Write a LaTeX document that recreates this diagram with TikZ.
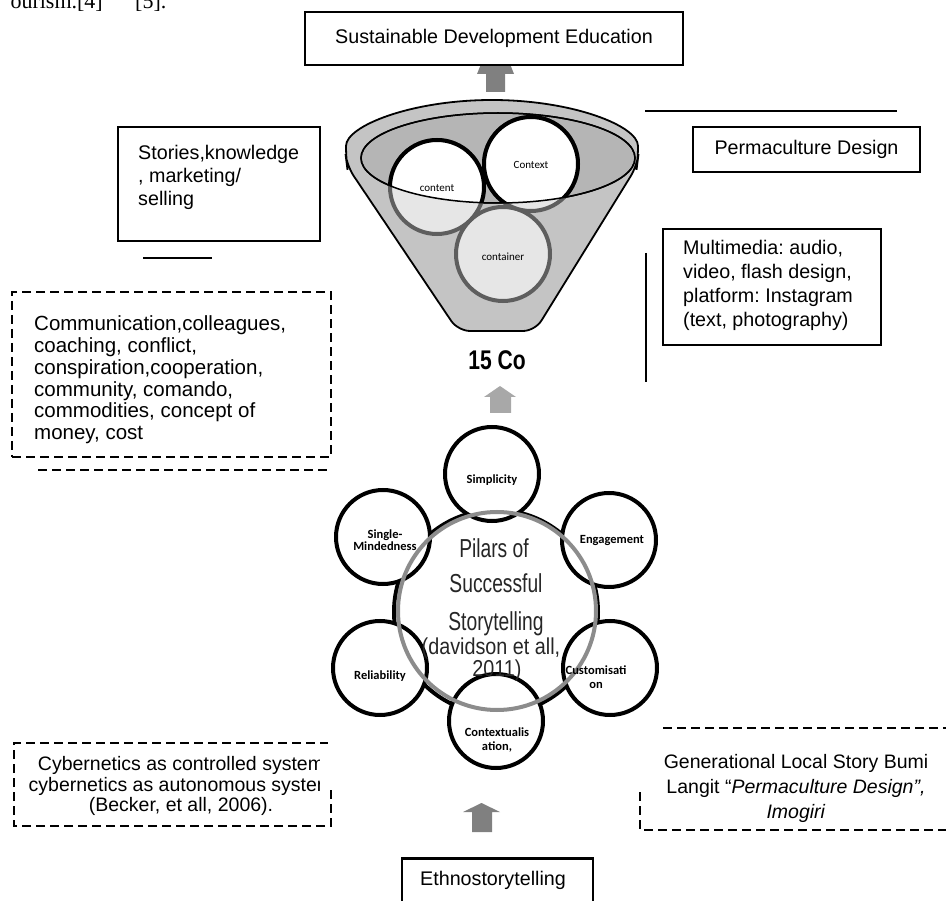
\documentclass[tikz,border=0pt]{standalone}
\usepackage{fontspec}
\setmainfont{Liberation Sans}
\newfontfamily\calibfont{Carlito}
\newfontfamily\serifont{Liberation Serif}
\definecolor{arrowdark}{HTML}{808080}
\definecolor{arrowlight}{HTML}{A8A8A8}
\definecolor{ringgray}{HTML}{8C8C8C}
\definecolor{circgray}{HTML}{5E5E5E}
\definecolor{circfill}{HTML}{E6E6E6}
\definecolor{conefill}{HTML}{C4C4C4}
\definecolor{innerfill}{HTML}{B5B5B5}
\frenchspacing
\begin{document}
\frenchspacing
\begin{tikzpicture}[x=1pt,y=-1pt,
  box/.style={draw, line width=1.8pt, fill=white, inner sep=0pt},
  dashbox/.style={draw, line width=1.4pt, dash pattern=on 9pt off 5pt, inner sep=0pt},
  dashline/.style={line width=1.4pt, dash pattern=on 9pt off 5pt},
  plainline/.style={line width=1.8pt},
  body/.style={font=\fontsize{19.7}{22}\selectfont, inner sep=0pt},
  sat/.style={circle, draw, line width=4pt, fill=white, minimum size=94pt, inner sep=0pt},
  satlabel/.style={font=\calibfont\bfseries\fontsize{12.5}{12.5}\selectfont, inner sep=0pt, align=center},
  funlabel/.style={font=\calibfont\fontsize{11}{11}\selectfont, inner sep=0pt},
  pillar/.style={inner sep=0pt, font=\fontsize{26}{26}\selectfont, text=black!85},
  pillarsmall/.style={inner sep=0pt, font=\fontsize{23}{23}\selectfont, text=black!85},
  graycirc/.style={circle, draw=circgray, fill=circfill, line width=4pt, minimum size=94pt, inner sep=0pt},
]
\useasboundingbox (0,0) rectangle (946,901);

% remnant text of the page above
\node[font=\serifont\fontsize{22}{22}\selectfont, anchor=base east, inner sep=0pt] (remA) at (103,9) {ourism.[4]};
\node[font=\serifont\fontsize{22}{22}\selectfont, anchor=base west, inner sep=0pt] (remB) at (135,9) {[5].};

% arrow below top box
\fill[arrowdark] (486,92) -- (486,74) -- (477,74) -- (481,64) -- (510,64) -- (514,74) -- (505,74) -- (505,92) -- cycle;

% top box
\node[box, minimum width=378pt, minimum height=53pt, font=\fontsize{19.7}{22}\selectfont] (sde) at (494,38.5) {Sustainable Development Education};

% funnel
\filldraw[fill=conefill, line width=1.8pt, rounded corners=12pt]
  (346,158) arc[start angle=180, end angle=0, x radius=146pt, y radius=58pt]
  -- (637,166) -- (535,331) -- (458,331) -- (347,166) -- cycle;
\filldraw[fill=innerfill, line width=1.5pt] (498,158) ellipse[x radius=137pt, y radius=45pt];
\node[graycirc] (containerc) at (503,254) {};
\node[graycirc] (contentg) at (437,187) {};
\node[graycirc] (contextg) at (531,164) {};
\begin{scope}
  \clip (498,158) ellipse[x radius=137pt, y radius=45pt];
  \filldraw[fill=white, line width=4pt] (437,187) circle[radius=47pt];
  \filldraw[fill=white, line width=4pt] (531,164) circle[radius=47pt];
\end{scope}
\draw[line width=1.5pt] (498,158) ellipse[x radius=137pt, y radius=45pt];
\node[funlabel] (contentl) at (437,188) {content};
\node[funlabel] (contextl) at (531,165) {Context};
\node[funlabel] (containerl) at (503,257) {container};

% 15 Co
\node[inner sep=0pt, font=\bfseries\fontsize{27}{27}\selectfont] (fifteen) at (497,360) {\scalebox{0.78}[1]{15 Co}};

% arrow below 15 Co
\fill[arrowlight] (490,413) -- (490,397) -- (484,397) -- (500,386) -- (516,397) -- (511,397) -- (511,413) -- cycle;

% pillars
\node[circle, draw, line width=4pt, minimum size=204pt, inner sep=0pt] (core) at (496,612) {};
\node[sat] (simp) at (492,474) {};
\node[sat] (single) at (383,537) {};
\node[sat] (engage) at (609,540) {};
\node[sat] (reli) at (380,668) {};
\node[sat] (custom) at (610,668) {};
\node[sat] (contexz) at (496,721) {};
\node[circle, draw=ringgray, line width=4pt, minimum size=198pt, inner sep=0pt] (ring) at (497,611) {};

\node[satlabel] (simpl) at (492,480) {Simplicity};
\node[satlabel, font=\calibfont\bfseries\fontsize{12.5}{12}\selectfont] (singlel) at (385,540) {Single-\\Mindedness};
\node[satlabel] (engagel) at (612,541) {Engagement};
\node[satlabel] (relil) at (380,676) {Reliability};
\node[satlabel, font=\calibfont\bfseries\fontsize{12.5}{13.5}\selectfont] (customl) at (596,677) {Customisati\\on};
\node[satlabel, font=\calibfont\bfseries\fontsize{12.5}{14.5}\selectfont] (contexzl) at (497,740) {Contextualis\\ation,};

\node[pillar] (p1) at (494,548) {\scalebox{0.74}[1]{Pilars of}};
\node[pillar] (p2) at (496,583) {\scalebox{0.74}[1]{Successful}};
\node[pillar] (p3) at (496,624) {\scalebox{0.74}[1]{Storytelling}};
\node[pillarsmall] (p4) at (491,649) {\scalebox{0.86}[1]{(davidson et all,}};
\node[pillarsmall] (p5) at (497,671) {\scalebox{0.86}[1]{2011)}};

% arrow below pillars
\fill[arrowdark] (472,832) -- (472,812) -- (463,812) -- (481.5,803) -- (500,812) -- (492,812) -- (492,832) -- cycle;

% Ethnostorytelling
\node[box, line width=2.5pt, minimum width=191pt, minimum height=56pt, anchor=north] (ethno) at (497.5,857) {};
\node[body] (ethnol) at (493,880) {Ethnostorytelling};

% Stories box
\node[box, minimum width=202pt, minimum height=114pt] (stories) at (219,184) {};
\node[body, font=\fontsize{19.7}{23}\selectfont, align=left, anchor=west] (storiesl) at (138,177) {Stories,knowledge\\, marketing/\\selling};
\coordinate (sl1) at (143,258);
\coordinate (sl2) at (212,258);
\draw[plainline] (sl1) -- (sl2);

% right top line and Permaculture box
\coordinate (tl1) at (645,111);
\coordinate (tl2) at (897,111);
\draw[plainline] (tl1) -- (tl2);
\node[box, minimum width=227pt, minimum height=45pt, font=\fontsize{19.7}{22}\selectfont] (perma) at (806.5,149.5) {Permaculture Design};

% Multimedia box
\node[box, minimum width=218pt, minimum height=116pt] (multi) at (772,287) {};
\node[body, font=\fontsize{19.7}{24}\selectfont, align=left, anchor=west] (multil) at (683,285) {Multimedia: audio,\\video, flash design,\\platform: Instagram\\(text, photography)};
\coordinate (vl1) at (646,253);
\coordinate (vl2) at (646,382);
\draw[plainline] (vl1) -- (vl2);

% Communication dashed box
\node[dashbox, minimum width=319pt, minimum height=165pt] (comm) at (171.5,374.5) {};
\node[body, font=\fontsize{20.5}{21.8}\selectfont, align=left, anchor=west] (comml) at (34,380) {Communication,colleagues,\\coaching, conflict,\\conspiration,cooperation,\\community, comando,\\commodities, concept of\\money, cost};
\coordinate (dl1) at (38,470);
\coordinate (dl2) at (330,470);
\draw[dashline] (dl1) -- (dl2);

% Cybernetics box
\coordinate (cb1) at (331,790);
\coordinate (cb2) at (331,826);
\coordinate (cb3) at (14,826);
\coordinate (cb4) at (14,743);
\coordinate (cb5) at (328,743);
\draw[dashline] (cb1) -- (cb2) -- (cb3) -- (cb4) -- (cb5);
\begin{scope}
  \clip (0,745) rectangle (319,830);
  \node[body, font=\fontsize{19.5}{20.5}\selectfont, align=center] (cyber) at (181,786) {Cybernetics as controlled system\\cybernetics as autonomous system\\(Becker, et all, 2006).};
\end{scope}

% Generational box
\coordinate (gb1) at (663,728);
\coordinate (gb2) at (946,728);
\draw[dashline] (gb1) -- (gb2);
\coordinate (gb3) at (640,792);
\coordinate (gb4) at (640,830);
\coordinate (gb5) at (946,830);
\draw[dashline] (gb3) -- (gb4) -- (gb5);
\node[body, font=\fontsize{19.5}{25}\selectfont, align=center] (gen) at (796,788) {Generational Local Story Bumi\\Langit “\textit{Permaculture Design”,}\\\textit{Imogiri}};
\end{tikzpicture}
\end{document}
